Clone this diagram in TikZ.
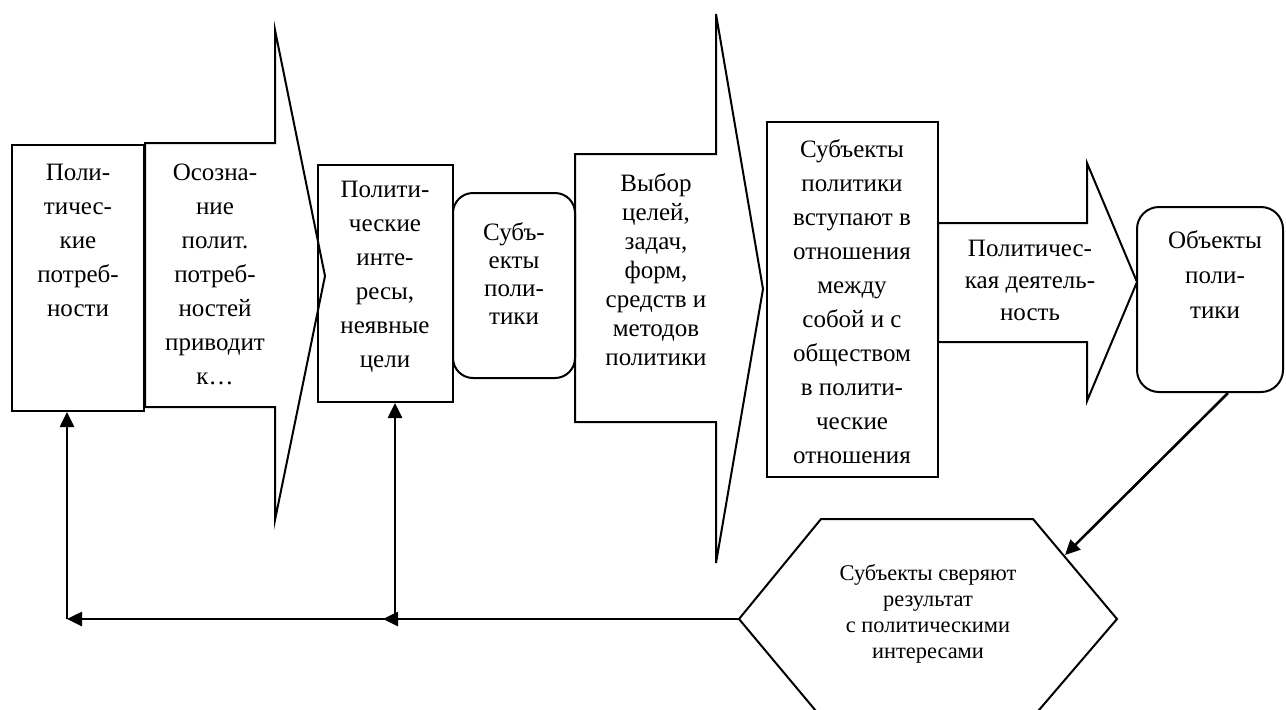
\documentclass[tikz,border=0pt]{standalone}
\usepackage{fontspec}
\setmainfont{Liberation Serif}
\usetikzlibrary{arrows.meta, positioning, calc}

\begin{document}
\begin{tikzpicture}[
            x=0.5pt, y=-0.5pt,
            line width=1pt,
            block/.style={rectangle, draw, inner sep=0pt},
            rblock/.style={block, rounded corners=10pt},
            txt/.style={align=center, inner sep=0pt, font=\fontsize{12.5}{17}\selectfont},
            bigarrow/.style={draw, line width=1pt, line join=miter},
            line/.style={draw, line width=1.3pt, -{Triangle[length=7.5pt, width=7pt]}}
        ]
            \useasboundingbox (0,0) rectangle (1286,709);

            % Блоки
            \node [block, minimum width=66pt, minimum height=133pt] (needs) at (78,278) {};
            \node [block, minimum width=67.5pt, minimum height=118.5pt] (interests) at (385.5,283.5) {};
            \node [rblock, minimum width=61pt, minimum height=92.5pt] (subjects) at (514,285.5) {};
            \node [block, minimum width=85.5pt, minimum height=177.5pt] (relations) at (852.5,299.5) {};
            \node [rblock, rounded corners=11pt, minimum width=73pt, minimum height=92.5pt] (objects) at (1210,299.5) {};

            % Большие стрелки
            \draw [bigarrow] (145,143) -- (275,143) -- (275,30) -- (325,276) -- (275,520) -- (275,407) -- (145,407) -- cycle;
            \draw [bigarrow] (575,154) -- (716,154) -- (716,14) -- (763,289) -- (716,563) -- (716,422) -- (575,422) -- cycle;
            \draw [bigarrow] (938,223) -- (1087,223) -- (1087,163) -- (1137,282) -- (1087,401) -- (1087,342) -- (938,342) -- cycle;

            % Шестиугольник
            \draw (739,619) coordinate (hw) -- (821,519) -- (1033,519) -- (1117,619) -- (1033,717) -- (821,717) -- cycle;
            \coordinate (hin) at (1065,555);

            % Тексты
            \node [txt] (needstext) at (78,240) {Поли-\\тичес-\\кие\\потреб-\\ности};
            \node [txt] (awaretext) at (215,274) {Осозна-\\ние\\полит.\\потреб-\\ностей\\приводит\\к…};
            \node [txt] (intereststext) at (385,277) {Полити-\\ческие\\инте-\\ресы,\\неявные\\цели};
            \node [txt, font=\fontsize{12.5}{14}\selectfont] (subjectstext) at (514,274) {Субъ-\\екты\\поли-\\тики};
            \node [txt, font=\fontsize{12.5}{14.5}\selectfont] (choicetext) at (656,270) {Выбор\\целей,\\задач,\\форм,\\средств и\\методов\\политики};
            \node [txt] (relationstext) at (852,302) {Субъекты\\политики\\вступают в\\отношения\\между\\собой и с\\обществом\\в полити-\\ческие\\отношения};
            \node [txt, font=\fontsize{12.5}{16}\selectfont] (activitytext) at (1030,280) {Политичес-\\кая деятель-\\ность};
            \node [txt, font=\fontsize{12.5}{17.5}\selectfont] (objectstext) at (1215,275) {Объекты\\поли-\\тики};
            \node [txt, font=\fontsize{11.2}{13}\selectfont] (check) at (928,614) {Субъекты сверяют\\результат\\с политическими\\интересами};

            % Обратная связь
            \coordinate (jB) at (395,619);
            \coordinate (jBtip) at (383,619);
            \coordinate (jA) at (67,619);
            \path [line] ([xshift=9pt]objects.south) -- (hin);
            \path [line] (hw) -- (jBtip);
            \path [line] (jB) -- (jA);
            \path [line] (jA) -- (jA |- needs.south);
            \path [line] (jB) -- (jB |- interests.south);
        \end{tikzpicture}
\end{document}
